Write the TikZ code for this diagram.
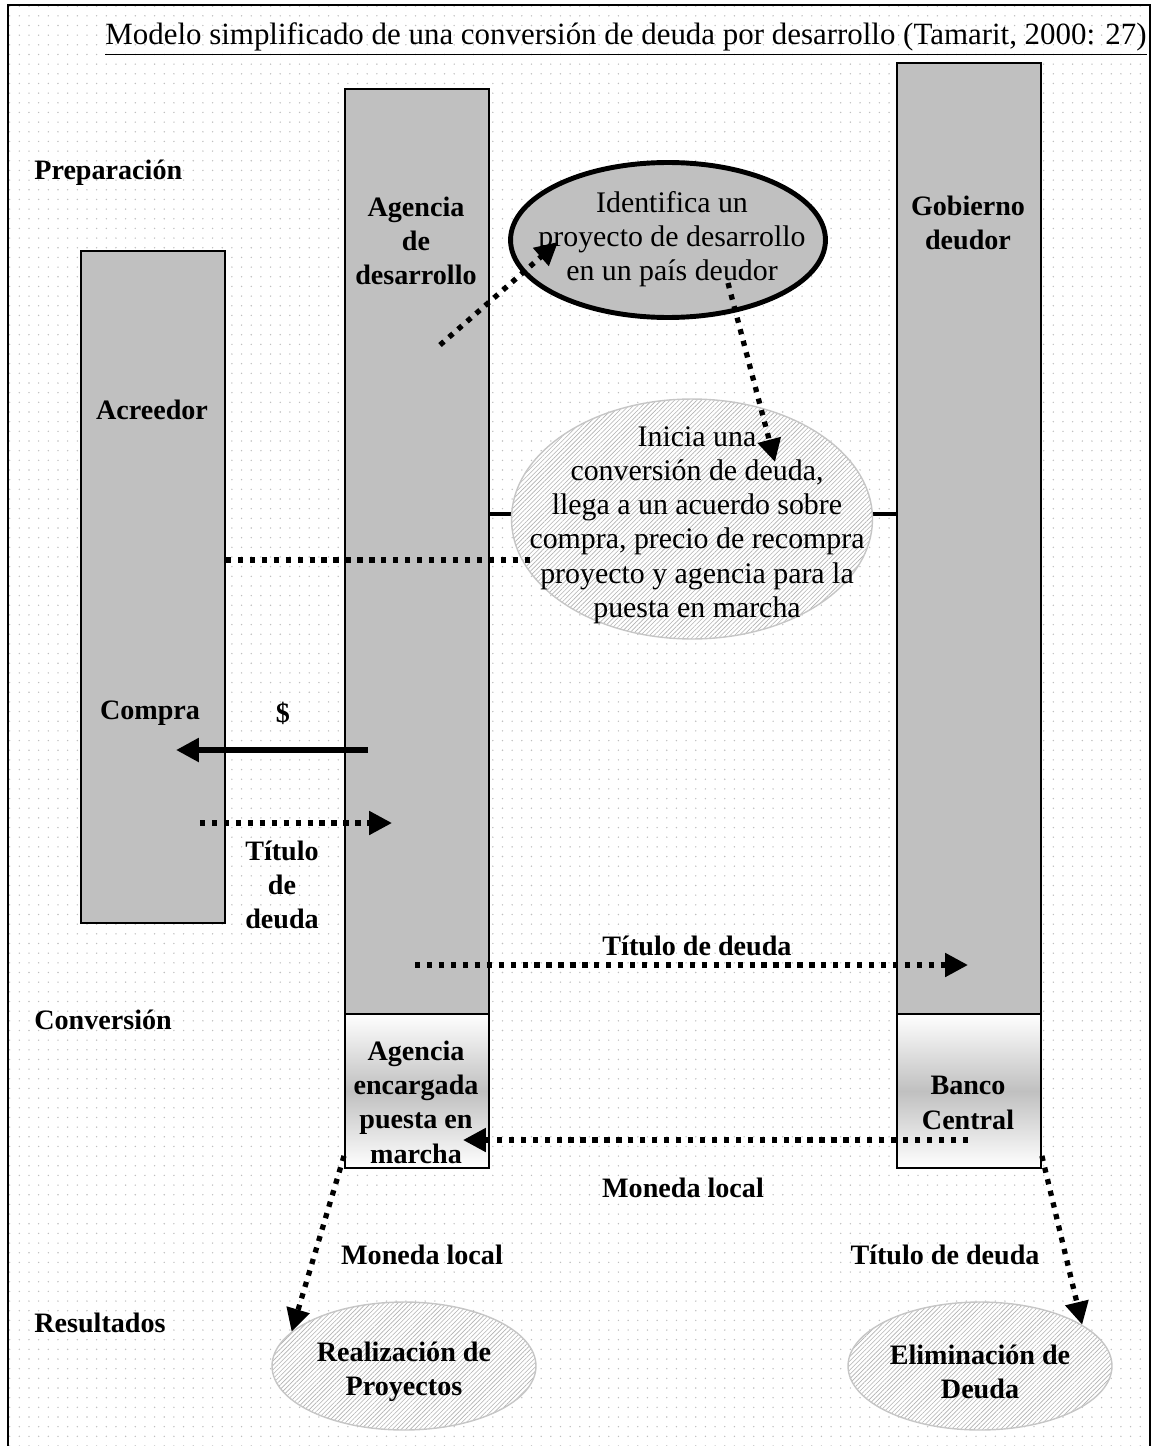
\documentclass[tikz,border=0pt]{standalone}
\usepackage{fontspec}
\setmainfont{Liberation Serif}
\usepackage{tikz}
\usetikzlibrary{arrows.meta,shapes.geometric,patterns.meta,positioning}
\definecolor{boxgray}{RGB}{192,192,192}

\begin{document}
\begin{tikzpicture}[x=0.02cm, y=-0.02cm,
            column/.style={rectangle, draw=black, line width=1.1pt, fill=boxgray, anchor=north west,
            minimum width=2.88cm, inner sep=0pt},
            lowbox/.style={rectangle, draw=black, line width=1.1pt, top color=white, bottom color=white,
            middle color=boxgray, anchor=north west, minimum width=2.88cm, minimum height=3.08cm, inner sep=0pt},
            oval/.style={ellipse, draw=gray!45, line width=0.8pt, preaction={fill=white},
            pattern={Lines[angle=45,distance=1.8pt,line width=0.35pt]}, pattern color=gray!60, inner sep=0pt},
            lbl/.style={font=\fontsize{16}{19.5}\selectfont\bfseries, align=center, inner sep=0pt},
            txt/.style={font=\fontsize{17}{19.5}\selectfont, align=center, inner sep=0pt},
            dotline/.style={line width=3pt, dash pattern=on 3pt off 3.8pt},
            dotarrow/.style={dotline, -{Triangle[length=13pt,width=13pt]}},
            fullarrow/.style={line width=3.2pt, -{Triangle[length=13pt,width=13pt]}}]
            \useasboundingbox (0,0) rectangle (1154,1446);
            % background and frame
            \fill[pattern={Dots[distance=5.5pt,radius=0.45pt]}, pattern color=gray!50] (8,5) rectangle (1150,1446);
            \draw[line width=1.5pt] (8,1446) -- (8,5) -- (1150,5) -- (1150,1446);

            \node[font=\fontsize{17.6}{20}\selectfont, inner sep=0pt] (titulo) at (626,39)
            {\underline{Modelo simplificado de una conversión de deuda por desarrollo (Tamarit, 2000: 27)}};

            % columns
            \node[column, minimum height=13.44cm] (acreedor) at (80,250) {};
            \node[column, minimum height=18.5cm] (agencia) at (344,88) {};
            \node[column, minimum height=19.02cm] (gobierno) at (896,62) {};
            \node[lowbox] (encargada) at (344,1013) {};
            \node[lowbox] (banco) at (896,1013) {};

            \node[lbl, anchor=west] (preparacion) at (34,173) {Preparación};
            \node[lbl, anchor=west] (conversion) at (34,1020) {Conversión};
            \node[lbl, anchor=west] (resultados) at (34,1323) {Resultados};

            \node[lbl] (agenciatxt) at (416,241) {Agencia\\de\\desarrollo};
            \node[lbl] (gobiernotxt) at (968,223) {Gobierno\\deudor};
            \node[lbl] (acreedortxt) at (152,410) {Acreedor};
            \node[lbl] (compra) at (150,713) {Compra};
            \node[lbl] (dolar) at (283,713) {\$};
            \node[lbl] (titulo1) at (282,885) {Título\\de\\deuda};
            \node[lbl] (encargadatxt) at (416,1102) {Agencia\\encargada\\puesta en\\marcha};
            \node[lbl] (bancotxt) at (968,1103) {Banco\\Central};

            % ellipses
            \node[ellipse, draw=black, line width=2.8pt, fill=boxgray, minimum width=6.3cm,
            minimum height=3.1cm, inner sep=0pt] (identifica) at (668,240) {};
            \node[txt] (identificatxt) at (672,239) {Identifica un\\proyecto de desarrollo\\en un país deudor};

            \draw[line width=2.8pt] (agencia.east |- 0,514) -- (gobierno.west |- 0,514);
            \node[oval, minimum width=7.22cm, minimum height=4.8cm] (inicia) at (692,519) {};
            \node[txt] (iniciatxt) at (697,525) {Inicia una\\conversión de deuda,\\llega a un acuerdo sobre\\compra, precio de recompra\\proyecto y agencia para la\\puesta en marcha};

            \node[oval, minimum width=5.28cm, minimum height=2.56cm] (realizacion) at (404,1366) {};
            \node[lbl] (realizaciontxt) at (404,1372) {Realización de\\Proyectos};
            \node[oval, minimum width=5.28cm, minimum height=2.56cm] (eliminacion) at (980,1366) {};
            \node[lbl] (eliminaciontxt) at (980,1372) {Eliminación de\\Deuda};

            % flow labels
            \node[lbl] (titulo2) at (697,946) {Título de deuda};
            \node[lbl] (moneda1) at (683,1188) {Moneda local};
            \node[lbl] (moneda2) at (422,1255) {Moneda local};
            \node[lbl] (titulo3) at (945,1255) {Título de deuda};

            % connectors
            \coordinate (idstart) at (440,345);
            \coordinate (idend) at (558,242);
            \coordinate (inistart) at (728,283);
            \coordinate (iniend) at (775,462);
            \coordinate (acuerdo) at (530,560);
            \coordinate (pago) at (368,750);
            \coordinate (cobro) at (176,750);
            \coordinate (bono) at (200,823);
            \coordinate (bonoend) at (392,823);
            \coordinate (canje) at (415,965);
            \coordinate (canjeend) at (968,965);
            \coordinate (local) at (968,1140);
            \coordinate (localend) at (463,1140);

            \draw[dotarrow] (idstart) -- (idend);
            \draw[dotarrow] (inistart) -- (iniend);
            \draw[dotline] (acreedor.east |- acuerdo) -- (acuerdo);
            \draw[fullarrow] (pago) -- (cobro);
            \draw[dotarrow] (bono) -- (bonoend);
            \draw[dotarrow] (canje) -- (canjeend);
            \draw[dotarrow] (local) -- (localend);
            \draw[dotarrow] ([yshift=0.26cm]encargada.south west) -- (realizacion.163);
            \draw[dotarrow] ([yshift=0.26cm]banco.south east) -- (eliminacion.22);
        \end{tikzpicture}
\end{document}
